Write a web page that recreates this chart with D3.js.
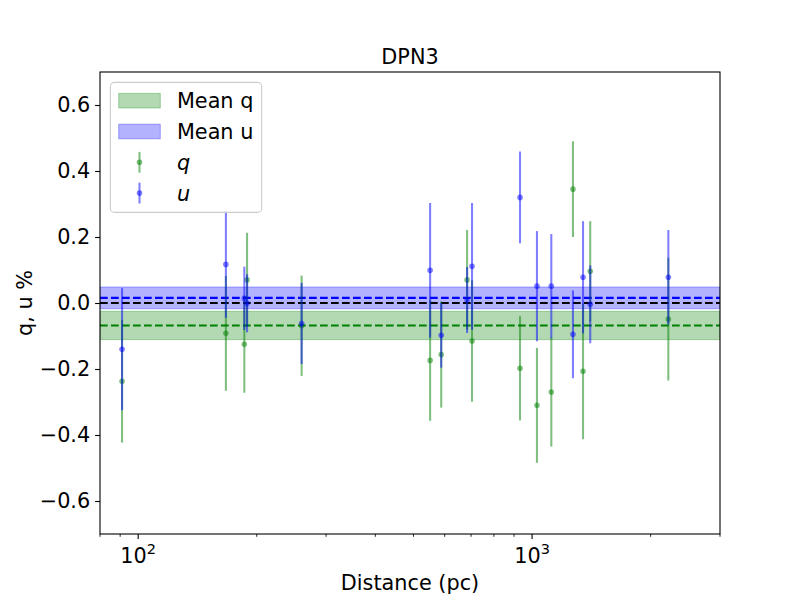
<!DOCTYPE html>
<html>
<head>
<meta charset="utf-8">
<script src="https://cdn.jsdelivr.net/npm/d3@7"></script>
<style>
  html, body { margin: 0; padding: 0; background: #fff; }
  svg { display: block; font-family: "DejaVu Sans", sans-serif; }
</style>
</head>
<body>
<svg id="chart" width="800" height="600"></svg>
<script>
// ---- Data ----
const title = "DPN3";
const distance = [91, 167, 186, 189, 260, 551, 588, 684, 704, 932, 1029, 1119, 1270, 1347, 1405, 2218];
const qValues  = [-0.237, -0.092, -0.125, 0.070, -0.069, -0.174, -0.156, 0.070, -0.115, -0.198, -0.310, -0.270, 0.345, -0.207, 0.096, -0.049];
const qErrors  = [0.186, 0.174, 0.147, 0.143, 0.152, 0.183, 0.161, 0.151, 0.184, 0.158, 0.174, 0.165, 0.145, 0.206, 0.152, 0.186];
const uValues  = [-0.140, 0.117, 0.014, -0.001, -0.062, 0.099, -0.098, 0.009, 0.111, 0.320, 0.051, 0.051, -0.095, 0.078, -0.004, 0.078];
const uErrors  = [0.185, 0.162, 0.096, 0.088, 0.123, 0.204, 0.098, 0.100, 0.192, 0.139, 0.167, 0.158, 0.133, 0.170, 0.118, 0.143];
const meanQ = -0.068, meanQErr = 0.043;
const meanU = 0.0155, meanUErr = 0.033;
const yTicks = [-0.6, -0.4, -0.2, 0.0, 0.2, 0.4, 0.6];
const xMajorTicks = [100, 1000];
const xMajorLabels = [["10", "2"], ["10", "3"]];
const xMinorTicks = [80, 90, 200, 300, 400, 500, 600, 700, 800, 900, 2000, 3000];
const xDomain = [80, 3000];
const yDomain = [-0.7, 0.7];
const legendLabels = ["Mean q", "Mean u", "q", "u"];

// ---- Layout ----
const L = 100, R = 720, T = 72, B = 534;
const FS = 20.8;
const svg = d3.select("#chart");
const x = d3.scaleLog().domain(xDomain).range([L, R]);
const y = d3.scaleLinear().domain(yDomain).range([B, T]);

const green = "#008000", blue = "#0000ff";

svg.append("defs").append("clipPath").attr("id", "clip")
  .append("rect").attr("x", L).attr("y", T).attr("width", R - L).attr("height", B - T);

const plot = svg.append("g").attr("clip-path", "url(#clip)");

// Mean bands (axhspan, alpha 0.3)
function band(mean, err, color) {
  plot.append("rect")
    .attr("x", L).attr("width", R - L)
    .attr("y", y(mean + err)).attr("height", y(mean - err) - y(mean + err))
    .attr("fill", color).attr("fill-opacity", 0.3)
    .attr("stroke", color).attr("stroke-opacity", 0.3).attr("stroke-width", 1);
}
band(meanQ, meanQErr, green);
band(meanU, meanUErr, blue);

// Dashed lines
function hline(v, color) {
  plot.append("line")
    .attr("x1", L).attr("x2", R).attr("y1", y(v)).attr("y2", y(v))
    .attr("stroke", color).attr("stroke-width", 2.08)
    .attr("stroke-dasharray", "7.7,3.3");
}
hline(meanQ, green);
hline(meanU, blue);
hline(0, "#000");

// Error bars
function errorbars(vals, errs, color) {
  const g = plot.append("g");
  g.selectAll("line").data(distance).join("line")
    .attr("x1", d => x(d)).attr("x2", d => x(d))
    .attr("y1", (d, i) => y(vals[i] + errs[i]))
    .attr("y2", (d, i) => y(vals[i] - errs[i]))
    .attr("stroke", color).attr("stroke-opacity", 0.5).attr("stroke-width", 2.08);
  g.selectAll("circle").data(distance).join("circle")
    .attr("cx", d => x(d)).attr("cy", (d, i) => y(vals[i]))
    .attr("r", 2.8)
    .attr("fill", color).attr("fill-opacity", 0.5);
}
errorbars(qValues, qErrors, green);
errorbars(uValues, uErrors, blue);

// Frame
svg.append("rect").attr("x", L).attr("y", T).attr("width", R - L).attr("height", B - T)
  .attr("fill", "none").attr("stroke", "#000").attr("stroke-width", 1.1);

// Y axis
const yAxis = svg.append("g").attr("transform", `translate(${L},0)`)
  .call(d3.axisLeft(y).tickValues(yTicks).tickSize(4.9).tickPadding(4.9).tickFormat(d3.format(".1f")));
yAxis.select(".domain").remove();
yAxis.selectAll("line").attr("stroke", "#000").attr("stroke-width", 1.1);
yAxis.selectAll("text").attr("font-size", FS).attr("font-family", "DejaVu Sans").attr("fill", "#000");

// X axis minor ticks
const xAxis = svg.append("g");
xAxis.selectAll("line.minor").data(xMinorTicks).join("line")
  .attr("class", "minor")
  .attr("x1", d => x(d)).attr("x2", d => x(d))
  .attr("y1", B).attr("y2", B + 2.8)
  .attr("stroke", "#000").attr("stroke-width", 0.85);
xAxis.selectAll("line.major").data(xMajorTicks).join("line")
  .attr("class", "major")
  .attr("x1", d => x(d)).attr("x2", d => x(d))
  .attr("y1", B).attr("y2", B + 4.9)
  .attr("stroke", "#000").attr("stroke-width", 1.1);
const xl = xAxis.selectAll("text").data(xMajorTicks).join("text")
  .attr("x", d => x(d)).attr("y", 563)
  .attr("text-anchor", "middle").attr("font-size", FS).attr("fill", "#000");
xl.append("tspan").text((d, i) => xMajorLabels[i][0]);
xl.append("tspan").attr("dy", -9).attr("font-size", FS * 0.7).text((d, i) => xMajorLabels[i][1]);

// Labels
svg.append("text").attr("x", (L + R) / 2).attr("y", 590).attr("text-anchor", "middle")
  .attr("font-size", FS).text("Distance (pc)");
svg.append("text").attr("transform", `translate(32,${(T + B) / 2}) rotate(-90)`)
  .attr("text-anchor", "middle").attr("font-size", FS).text("q, u %");
svg.append("text").attr("x", (L + R) / 2).attr("y", 63.7).attr("text-anchor", "middle")
  .attr("font-size", FS).text(title);

// Legend
const lg = svg.append("g");
const lx = L + 10.4, ly = T + 10.4;
const pad = 8.3, hl = 41.6, hp = 16.6, rowH = 30.8;
const box = lg.append("rect").attr("x", lx).attr("y", ly).attr("rx", 4).attr("ry", 4)
  .attr("fill", "#fff").attr("fill-opacity", 0.8).attr("stroke", "#ccc").attr("stroke-width", 1.1);
const hx = lx + pad;
const rowC = i => ly + 18.3 + i * rowH;
[[green], [blue]].forEach((c, i) => {
  lg.append("rect").attr("x", hx).attr("y", rowC(i) - 7.3).attr("width", hl).attr("height", 14.6)
    .attr("fill", c[0]).attr("fill-opacity", 0.3).attr("stroke", c[0]).attr("stroke-opacity", 0.3);
});
[green, blue].forEach((c, k) => {
  const i = k + 2;
  lg.append("line").attr("x1", hx + hl / 2).attr("x2", hx + hl / 2)
    .attr("y1", rowC(i) - 10.4).attr("y2", rowC(i) + 10.4)
    .attr("stroke", c).attr("stroke-opacity", 0.5).attr("stroke-width", 2.08);
  lg.append("circle").attr("cx", hx + hl / 2).attr("cy", rowC(i)).attr("r", 2.8)
    .attr("fill", c).attr("fill-opacity", 0.5);
});
let maxW = 0;
legendLabels.forEach((t, i) => {
  const tx = lg.append("text").attr("x", hx + hl + hp).attr("y", rowC(i) + 7.5)
    .attr("font-size", FS).text(t);
  if (i >= 2) tx.attr("font-style", "italic");
  maxW = Math.max(maxW, tx.node().getComputedTextLength());
});
box.attr("width", pad + hl + hp + maxW + pad).attr("height", rowC(3) + 19.3 - ly);
</script>
</body>
</html>
